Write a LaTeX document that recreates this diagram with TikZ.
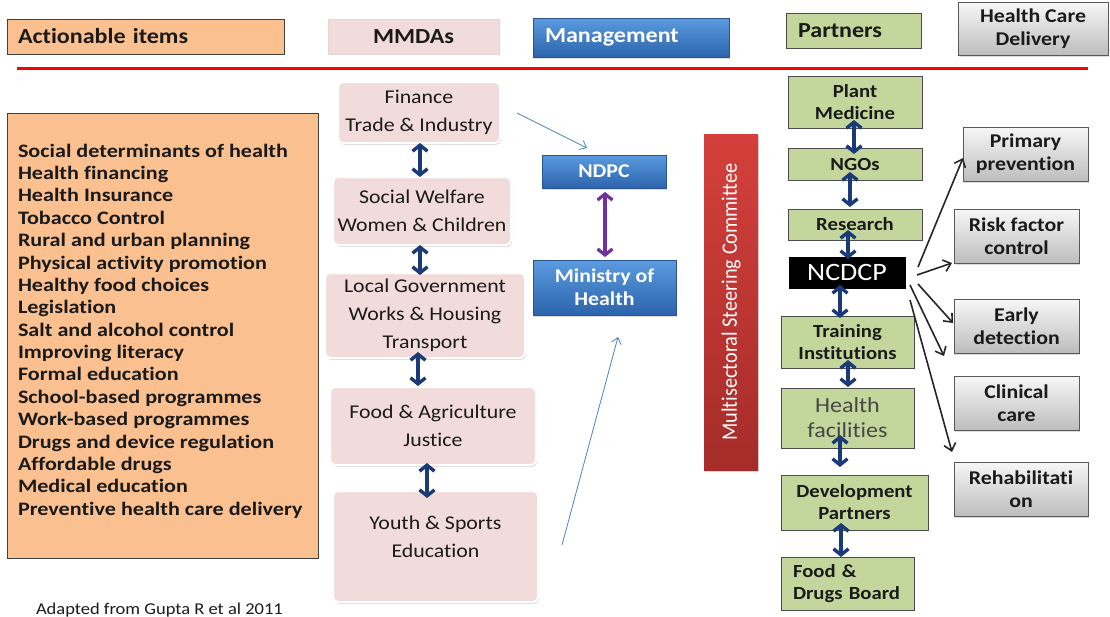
\documentclass[tikz,border=0pt]{standalone}
\usepackage{fontspec}
\setmainfont{Carlito}[FakeStretch=1.12, Ligatures=NoCommon]
\newfontfamily\plainfont{Carlito}[Ligatures=NoCommon]
\newfontfamily\listfont{Carlito}[FakeStretch=1.165, Ligatures=NoCommon]
\usetikzlibrary{arrows.meta,shadows,calc}
\newcommand\setfs[2]{\fontsize{#1}{#2}\selectfont}

\definecolor{orangefill}{HTML}{FAC090}
\definecolor{pinkfill}{HTML}{F2DCDB}
\definecolor{pinkedge}{HTML}{E6D6D2}
\definecolor{greenfill}{HTML}{C3D69B}
\definecolor{navyarrow}{HTML}{1B3A78}
\definecolor{purplearrow}{HTML}{7030A0}
\definecolor{thinblue}{HTML}{4F81BD}
\definecolor{bluetop}{HTML}{5B9BDF}
\definecolor{bluebot}{HTML}{2C64AC}
\definecolor{blueedge}{HTML}{2A5590}
\definecolor{redtop}{HTML}{D4403C}
\definecolor{redbot}{HTML}{A52C29}
\definecolor{graytop}{HTML}{F7F7F7}
\definecolor{graybot}{HTML}{BDBDBD}
\definecolor{textdark}{HTML}{1A1A1A}
\definecolor{softtext}{HTML}{474747}

\begin{document}
\begin{tikzpicture}[x=1pt,y=-1pt,
  every node/.style={inner sep=0pt, outer sep=0pt, text=textdark},
  softshadow/.style={drop shadow={opacity=0.28, shadow xshift=1.2pt, shadow yshift=-1.8pt}},
  headfont/.style={font=\setfs{21.5}{24}\bfseries},
  actbox/.style={draw=black!75, line width=0.9pt, fill=orangefill},
  pinkhead/.style={draw=pinkedge, line width=0.8pt, fill=pinkfill},
  mmdabox/.style={rounded corners=5pt, fill=pinkfill, draw=white, line width=2pt,
    softshadow, align=center, font=\setfs{19.5}{28}},
  bluebox/.style={top color=bluetop, bottom color=bluebot, draw=blueedge, line width=0.6pt,
    text=white, align=center, font=\setfs{19.5}{23}\bfseries, softshadow},
  partner/.style={fill=greenfill, draw=black!70, line width=0.9pt, align=center,
    font=\setfs{18.5}{22}\bfseries},
  carebox/.style={top color=graytop, bottom color=graybot, draw=black!65, line width=0.9pt,
    align=center, font=\setfs{19.5}{23}\bfseries, softshadow},
  linkarrow/.style={draw=navyarrow, line width=3.6pt,
    arrows={Straight Barb[length=6pt,width=15pt,line width=3.4pt]-Straight Barb[length=6pt,width=15pt,line width=3.4pt]}},
  pairarrow/.style={draw=purplearrow, line width=3.4pt,
    arrows={Straight Barb[length=6pt,width=15pt,line width=3.2pt]-Straight Barb[length=6pt,width=15pt,line width=3.2pt]}},
  feedarrow/.style={draw=thinblue, line width=0.8pt, -{Straight Barb[length=6pt,width=10pt,line width=0.8pt]}},
  carearrow/.style={draw=black!85, line width=1.6pt, -{Straight Barb[length=7pt,width=12pt,line width=1.6pt]}}
]
\useasboundingbox (0,0) rectangle (1110,616);

% ---- column headers ----
\node[actbox, headfont, minimum width=277pt, minimum height=35pt, inner xsep=11pt,
  text width=255pt, align=left] (hact) at (145.5,36.5) {Actionable items};
\node[pinkhead, headfont, minimum width=171pt, minimum height=35pt] (hmmda) at (413.5,36.5) {MMDAs};
\node[bluebox, headfont, minimum width=196pt, minimum height=39pt, inner xsep=12pt,
  text width=172pt, align=left] (hman) at (631,37.5) {Management};
\node[partner, headfont, minimum width=135pt, minimum height=35pt, inner xsep=12pt,
  text width=111pt, align=left] (hpart) at (853.5,30.5) {Partners};
\node[carebox, minimum width=150pt, minimum height=53pt] (hcare) at (1033,28.5) {Health Care\\Delivery};

\draw[red, line width=3pt] (17,68) -- (1088,68);

% ---- actionable items ----
\node[actbox, minimum width=311pt, minimum height=445pt] (actbox) at (162.5,335.5) {};
\node[anchor=west, align=left, font=\listfont\setfs{19}{22.375}\bfseries] (actlist) at (18,331) {%
Social determinants of health\\
Health financing\\
Health Insurance\\
Tobacco Control\\
Rural and urban planning\\
Physical activity promotion\\
Healthy food choices\\
Legislation\\
Salt and alcohol control\\
Improving literacy\\
Formal education\\
School-based programmes\\
Work-based programmes\\
Drugs and device regulation\\
Affordable drugs\\
Medical education\\
Preventive health care delivery};

% ---- ministries, departments and agencies ----
\node[mmdabox, minimum width=162pt, minimum height=61pt] (fin) at (419,112.5) {Finance\\Trade \& Industry};
\node[mmdabox, minimum width=178pt, minimum height=68pt] (soc) at (422,211) {Social Welfare\\Women \& Children};
\node[mmdabox, minimum width=200pt, minimum height=85pt] (loc) at (425,315.5) {Local Government\\Works \& Housing\\Transport};
\node[mmdabox, minimum width=206pt, minimum height=78pt] (food) at (433,426) {Food \& Agriculture\\Justice};
\node[mmdabox, minimum width=205pt, minimum height=111pt, text depth=20pt] (youth) at (435.5,546.5) {Youth \& Sports\\Education};

\draw[linkarrow] ($(fin.south)+(1,0)$) -- ($(soc.north)+(-2,0)$);
\draw[linkarrow] ($(soc.south)+(-2,0)$) -- ($(loc.north)+(-5,2)$);
\draw[linkarrow] ($(loc.south)+(-7,-6)$) -- ($(food.north)+(-15,-1)$);
\draw[linkarrow] ($(food.south)+(-6,-2)$) -- ($(youth.north)+(-8.5,7)$);

% ---- management ----
\node[bluebox, minimum width=124pt, minimum height=33pt] (ndpc) at (604,171.5) {NDPC};
\node[bluebox, minimum width=143pt, minimum height=55pt] (moh) at (604.5,287.5) {Ministry of\\Health};
\draw[pairarrow] ($(ndpc.south)+(1,4)$) -- ($(moh.north)+(0.5,-3)$);
\draw[feedarrow] ($(fin.east)+(17,0.5)$) -- ($(ndpc.north)+(-17,-7)$);
\draw[feedarrow] ($(youth.east)+(24,-1.5)$) -- ($(moh.south)+(13.5,22)$);

% ---- steering committee ----
\node[top color=redtop, bottom color=redbot, minimum width=54pt, minimum height=336pt,
  softshadow] (msc) at (731,302)
  {\rotatebox{90}{\color{white}\scalebox{0.92}[1]{\plainfont\setfs{22}{26}Multisectoral Steering Committee}}};

% ---- partners ----
\node[partner, minimum width=134pt, minimum height=52pt] (plant) at (855,102) {Plant\\Medicine};
\node[partner, minimum width=134pt, minimum height=32pt] (ngos) at (855,164) {NGOs};
\node[partner, minimum width=134pt, minimum height=31pt] (research) at (855,224.5) {Research};
\node[fill=black, draw=white, line width=3pt, minimum width=120pt, minimum height=35pt,
  text=white, font=\setfs{25}{28}, softshadow] (ncdcp) at (847,272.5) {NCDCP};
\node[partner, minimum width=133pt, minimum height=52pt] (train) at (847.5,342) {Training\\Institutions};
\node[partner, minimum width=133pt, minimum height=60pt, text=softtext,
  font=\setfs{21.5}{25}] (health) at (847.5,418) {Health\\facilities};
\node[partner, minimum width=147pt, minimum height=55pt] (dev) at (854.5,502.5) {Development\\Partners};
\node[partner, minimum width=133pt, minimum height=53pt, inner xsep=12pt, text width=109pt,
  align=left] (fdb) at (847.5,583.5) {Food \&\\Drugs Board};

\draw[linkarrow] ($(plant.south)+(-1,-8)$) -- ($(ngos.north)+(-1,6)$);
\draw[linkarrow] ($(ngos.south)+(-5,-8)$) -- ($(research.north)+(-5,-2)$);
\draw[linkarrow] ($(research.south)+(-7,-10)$) -- ($(ncdcp.north)+(1,4)$);
\draw[linkarrow] ($(ncdcp.south)+(-7,-5)$) -- ($(train.north)+(-7.5,2)$);
\draw[linkarrow] ($(train.south)+(0.5,-8)$) -- ($(health.north)+(0.5,-1)$);
\draw[linkarrow] ($(health.south)+(-7.5,-13)$) -- ($(dev.north)+(-14.5,-8)$);
\draw[linkarrow] ($(dev.south)+(-13.5,-7)$) -- ($(fdb.north)+(-6.5,0)$);

% ---- health care delivery ----
\node[carebox, minimum width=125pt, minimum height=54pt] (prim) at (1025.5,154) {Primary\\prevention};
\node[carebox, minimum width=125pt, minimum height=54pt] (risk) at (1016.5,236) {Risk factor\\control};
\node[carebox, minimum width=125pt, minimum height=54pt] (early) at (1016.5,326) {Early\\detection};
\node[carebox, minimum width=125pt, minimum height=54pt] (clin) at (1016.5,403) {Clinical\\care};
\node[carebox, minimum width=134pt, minimum height=54pt] (rehab) at (1021,489) {Rehabilitati\\on};

\coordinate (clinhint) at ($(clin.north west)+(-10,-20)$);
\draw[carearrow] ($(ncdcp.east)+(11,-5.5)$) -- ($(prim.west)+(0,4)$);
\draw[carearrow] ($(ncdcp.east)+(10,2.5)$) -- ($(risk.south west)+(-2,0)$);
\draw[carearrow] ($(ncdcp.east)+(11,11.5)$) -- ($(early.west)+(-1,-3)$);
\draw[carearrow] ($(ncdcp.south east)+(3,-5)$) -- (clinhint);
\draw[carearrow] ($(ncdcp.south east)+(3,10)$) -- ($(rehab.north west)+(-2,-10)$);

% ---- source ----
\node[anchor=base west, font=\setfs{16.5}{18}] (src) at (36,614) {Adapted from Gupta R et al 2011};
\end{tikzpicture}
\end{document}
